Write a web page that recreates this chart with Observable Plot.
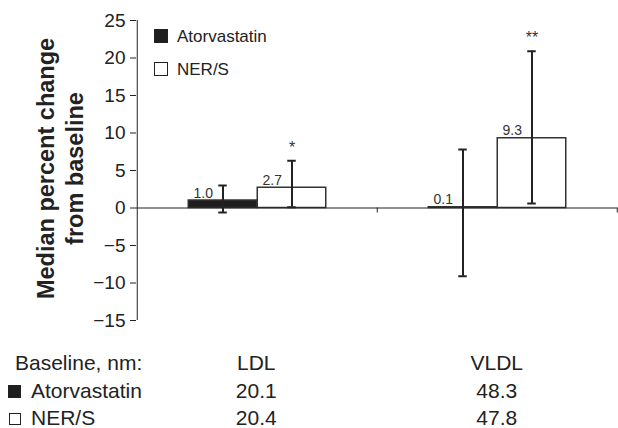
<!DOCTYPE html>
<html>
<head>
<meta charset="utf-8">
<script src="https://cdn.jsdelivr.net/npm/d3@7"></script>
<script src="https://cdn.jsdelivr.net/npm/@observablehq/plot@0.6"></script>
<style>
  html, body { margin: 0; padding: 0; background: #fff; }
  #wrap { position: relative; width: 618px; height: 428px; font-family: "Liberation Sans", Arial, sans-serif; color: #222; }
  #wrap svg { display: block; }
  .abs { position: absolute; white-space: nowrap; line-height: 1; }
  .sq { position: absolute; box-sizing: border-box; border: 1.5px solid #222; }
</style>
</head>
<body>
<div id="wrap"></div>
<script>
// ---- data ----
const categories = ["LDL", "VLDL"];
const seriesNames = ["Atorvastatin", "NER/S"];
const atorvaMedian = [1.0, 0.1];
const atorvaLow = [-0.6, -9.1];
const atorvaHigh = [3.0, 7.8];
const nersMedian = [2.7, 9.3];
const nersLow = [0.1, 0.6];
const nersHigh = [6.3, 20.9];
const nersSignificance = ["*", "**"];
const yTicks = [-15, -10, -5, 0, 5, 10, 15, 20, 25];
const baselineLabel = "Baseline, nm:";
const baselineAtorva = ["20.1", "48.3"];
const baselineNers = ["20.4", "47.8"];
const yTitle = "Median percent change\nfrom baseline";

// ---- layout ----
const W = 618, H = 340;
const mL = 136, mR = 1, mT = 20, mB = 20;
const band = (W - mL - mR) / categories.length;
const barW = 69;
const off = barW / 2;
const pxPerUnit = (H - mT - mB) / 40;
const font = '"Liberation Sans", Arial, sans-serif';
const ink = "#222";

const atorvaRows = categories.map((c, i) => ({category: c, median: atorvaMedian[i], low: atorvaLow[i], high: atorvaHigh[i]}));
const nersRows = categories.map((c, i) => ({category: c, median: nersMedian[i], low: nersLow[i], high: nersHigh[i], sig: nersSignificance[i]}));

const barInset = (band - barW) / 2;
const capInset = (band - 9) / 2;

const chart = Plot.plot({
  width: W, height: H,
  marginLeft: mL, marginRight: mR, marginTop: mT, marginBottom: mB,
  style: {fontFamily: font, background: "#fff", color: ink, overflow: "visible"},
  x: {domain: categories, padding: 0, axis: null},
  y: {domain: [-15, 25], axis: null},
  marks: [
    // y axis spine
    Plot.ruleX([categories[0]], {x: d => d, dx: -band / 2, y1: -15, y2: 25, stroke: ink, strokeWidth: 1}),
    Plot.axisY({ticks: yTicks, tickSize: 6, tickPadding: 5, fontSize: 19, stroke: ink, fill: ink,
      tickFormat: d => d < 0 ? "\u2212" + Math.abs(d) : String(d)}),
    // bars
    Plot.barY(atorvaRows, {x: "category", y1: 0, y2: "median", dx: -off, insetLeft: barInset, insetRight: barInset, fill: "#1e1e1e", stroke: "#333", strokeWidth: 1.5}),
    Plot.barY(nersRows, {x: "category", y1: 0, y2: "median", dx: off, insetLeft: barInset, insetRight: barInset, fill: "#fff", stroke: "#333", strokeWidth: 1.5}),
    // x axis line and ticks
    Plot.ruleY([0], {stroke: ink, strokeWidth: 1}),
    Plot.ruleX(categories, {x: d => d, dx: band / 2 - 0.5, y1: 0, y2: -5 / pxPerUnit, stroke: ink, strokeWidth: 1}),
    // error bars
    Plot.ruleX(atorvaRows, {x: "category", y1: "low", y2: "high", dx: -off, stroke: ink, strokeWidth: 2}),
    Plot.tickY(atorvaRows, {x: "category", y: "high", dx: -off, insetLeft: capInset, insetRight: capInset, stroke: ink, strokeWidth: 2}),
    Plot.tickY(atorvaRows, {x: "category", y: "low", dx: -off, insetLeft: capInset, insetRight: capInset, stroke: ink, strokeWidth: 2}),
    Plot.ruleX(nersRows, {x: "category", y1: "low", y2: "high", dx: off, stroke: ink, strokeWidth: 2}),
    Plot.tickY(nersRows, {x: "category", y: "high", dx: off, insetLeft: capInset, insetRight: capInset, stroke: ink, strokeWidth: 2}),
    Plot.tickY(nersRows, {x: "category", y: "low", dx: off, insetLeft: capInset, insetRight: capInset, stroke: ink, strokeWidth: 2}),
    // value labels
    Plot.text(atorvaRows, {x: "category", y: "median", text: d => d.median.toFixed(1), dx: -off - 10, dy: -3, textAnchor: "end", lineAnchor: "bottom", fontSize: 14, fill: "#333"}),
    Plot.text(nersRows, {x: "category", y: "median", text: d => d.median.toFixed(1), dx: off - 10, dy: -3, textAnchor: "end", lineAnchor: "bottom", fontSize: 14, fill: "#333"}),
    // significance
    Plot.text(nersRows, {x: "category", y: "high", text: "sig", dx: off, dy: -8, lineAnchor: "bottom", fontSize: 16, fill: "#333"}),
    // y title
    Plot.text([yTitle], {frameAnchor: "left", text: d => d, rotate: -90, textAnchor: "middle", lineAnchor: "middle", dx: -77, dy: -2, fontSize: 23.5, fontWeight: "bold", lineHeight: 1.2, fill: ink})
  ]
});

const wrap = document.getElementById("wrap");
wrap.appendChild(chart);

function addText(txt, left, top, size, anchor) {
  const el = document.createElement("div");
  el.className = "abs";
  el.textContent = txt;
  el.style.fontSize = size + "px";
  el.style.top = top + "px";
  el.style.left = left + "px";
  if (anchor === "middle") el.style.transform = "translateX(-50%)";
  wrap.appendChild(el);
  return el;
}
function addSquare(left, top, size, filled) {
  const el = document.createElement("div");
  el.className = "sq";
  el.style.left = left + "px"; el.style.top = top + "px";
  el.style.width = size + "px"; el.style.height = size + "px";
  el.style.background = filled ? "#1e1e1e" : "#fff";
  wrap.appendChild(el);
}

// legend inside plot
addSquare(154, 29, 14, true);
addText(seriesNames[0], 177, 28, 17);
addSquare(154, 62, 14, false);
addText(seriesNames[1], 177, 61, 17);

// baseline table
const colX = categories.map((c, i) => mL + band * (i + 0.5));
const rowTop = [352, 380, 407];
addText(baselineLabel, 15, rowTop[0], 21);
categories.forEach((c, i) => addText(c, colX[i], rowTop[0], 21, "middle"));
addSquare(8, rowTop[1] + 5, 13, true);
addText(seriesNames[0], 31, rowTop[1], 21);
baselineAtorva.forEach((v, i) => addText(v, colX[i], rowTop[1], 21, "middle"));
addSquare(9, rowTop[2] + 6, 12, false);
addText(seriesNames[1], 31, rowTop[2], 21);
baselineNers.forEach((v, i) => addText(v, colX[i], rowTop[2], 21, "middle"));
</script>
</body>
</html>
